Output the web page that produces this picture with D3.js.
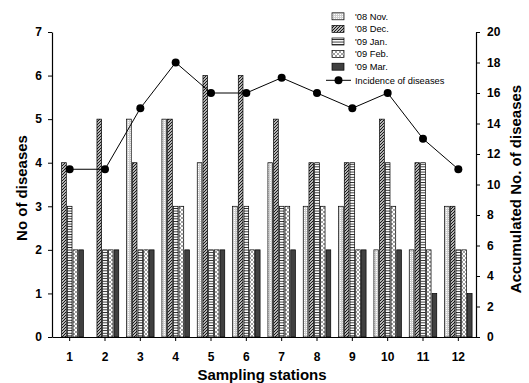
<!DOCTYPE html>
<html>
<head>
<meta charset="utf-8">
<script src="https://cdn.jsdelivr.net/npm/d3@7"></script>
<style>
  body { margin: 0; background: #fff; }
  svg { display: block; font-family: "Liberation Sans", Arial, sans-serif; }
</style>
</head>
<body>
<svg id="chart" width="529" height="383"></svg>
<script>
// data
const stations = ["1", "2", "3", "4", "5", "6", "7", "8", "9", "10", "11", "12"];
const months = ["'08 Nov.", "'08 Dec.", "'09 Jan.", "'09 Feb.", "'09 Mar."];
const nov08 = [0, 0, 5, 5, 4, 3, 4, 3, 3, 2, 2, 3];
const dec08 = [4, 5, 4, 5, 6, 6, 5, 4, 4, 5, 4, 3];
const jan09 = [3, 2, 2, 3, 2, 3, 3, 4, 4, 4, 4, 2];
const feb09 = [2, 2, 2, 3, 2, 2, 3, 3, 2, 3, 2, 2];
const mar09 = [2, 2, 2, 2, 2, 2, 2, 2, 2, 2, 1, 1];
const incidence = [11, 11, 15, 18, 16, 16, 17, 16, 15, 16, 13, 11];
const leftTicks = [0, 1, 2, 3, 4, 5, 6, 7];
const rightTicks = [0, 2, 4, 6, 8, 10, 12, 14, 16, 18, 20];

const series = [nov08, dec08, jan09, feb09, mar09];
const fills = ["url(#pNov)", "url(#pDec)", "url(#pJan)", "url(#pFeb)", "#404040"];

const svg = d3.select('#chart');
const plotLeft = 52, plotRight = 476, plotTop = 32, plotBottom = 337;

// patterns
const defs = svg.append('defs');
let p = defs.append('pattern').attr('id', 'pNov').attr('patternUnits', 'userSpaceOnUse')
  .attr('width', 2).attr('height', 2);
p.append('rect').attr('width', 2).attr('height', 2).attr('fill', '#cfcfcf');
p.append('rect').attr('width', 1).attr('height', 1).attr('fill', '#fff');

p = defs.append('pattern').attr('id', 'pDec').attr('patternUnits', 'userSpaceOnUse')
  .attr('width', 3).attr('height', 3);
p.append('rect').attr('width', 3).attr('height', 3).attr('fill', '#fff');
p.append('path').attr('d', 'M-1,1 L1,-1 M0,3 L3,0 M2,4 L4,2').attr('stroke', '#111').attr('stroke-width', 1.2);

p = defs.append('pattern').attr('id', 'pJan').attr('patternUnits', 'userSpaceOnUse')
  .attr('width', 3).attr('height', 2.6);
p.append('rect').attr('width', 3).attr('height', 2.6).attr('fill', '#fff');
p.append('rect').attr('y', 0).attr('width', 3).attr('height', 0.9).attr('fill', '#222');

p = defs.append('pattern').attr('id', 'pFeb').attr('patternUnits', 'userSpaceOnUse')
  .attr('width', 4).attr('height', 4);
p.append('rect').attr('width', 4).attr('height', 4).attr('fill', '#fff');
p.append('path').attr('d', 'M0,0 L4,4 M0,4 L4,0').attr('stroke', '#888').attr('stroke-width', 0.8);

// scales
const x = d3.scaleBand().domain(stations).range([plotLeft, plotRight]).padding(0);
const y = d3.scaleLinear().domain([0, 7]).range([plotBottom, plotTop]);
const y2 = d3.scaleLinear().domain([0, 20]).range([plotBottom, plotTop]);
const sub = d3.scaleBand().domain(d3.range(5)).range([-13.75, 13.75]).paddingInner(0.18);

const cx = d => x(d) + x.bandwidth() / 2;

// bars
series.forEach((vals, si) => {
  svg.append('g').selectAll('rect')
    .data(vals.map((v, i) => ({ st: stations[i], v })).filter(d => d.v > 0))
    .enter().append('rect')
    .attr('x', d => cx(d.st) + sub(si))
    .attr('width', sub.bandwidth())
    .attr('y', d => y(d.v))
    .attr('height', d => plotBottom - y(d.v))
    .attr('fill', fills[si])
    .attr('stroke', '#000')
    .attr('stroke-width', 0.7);
});

// incidence line
const line = d3.line().x((d, i) => cx(stations[i])).y(d => y2(d));
svg.append('path').datum(incidence)
  .attr('d', line).attr('fill', 'none').attr('stroke', '#000').attr('stroke-width', 1);
svg.append('g').selectAll('circle').data(incidence).enter().append('circle')
  .attr('cx', (d, i) => cx(stations[i])).attr('cy', d => y2(d)).attr('r', 4).attr('fill', '#000');

// axes
const styleAxis = g => {
  g.select('.domain').attr('stroke', '#000').attr('stroke-width', 1.2);
  g.selectAll('.tick line').attr('stroke', '#000');
  g.selectAll('.tick text').attr('fill', '#000').style('font-size', '12px').style('font-weight', 'bold')
    .style('font-family', '"Liberation Sans", Arial, sans-serif');
};
svg.append('g').attr('transform', `translate(0,${plotBottom})`)
  .call(d3.axisBottom(x).tickSize(4).tickSizeOuter(0).tickPadding(11))
  .call(styleAxis);
svg.append('g').attr('transform', `translate(${plotLeft},0)`)
  .call(d3.axisLeft(y).tickValues(leftTicks).tickFormat(d3.format('d')).tickSize(4).tickSizeOuter(0).tickPadding(6))
  .call(styleAxis);
svg.append('g').attr('transform', `translate(${plotRight},0)`)
  .call(d3.axisRight(y2).tickValues(rightTicks).tickFormat(d3.format('d')).tickSize(4).tickSizeOuter(0).tickPadding(7))
  .call(styleAxis);

// titles
svg.append('text').attr('x', 262).attr('y', 380).attr('text-anchor', 'middle')
  .style('font-size', '15px').style('font-weight', 'bold').text('Sampling stations');
svg.append('text').attr('transform', 'translate(27,188) rotate(-90)').attr('text-anchor', 'middle')
  .style('font-size', '15px').style('font-weight', 'bold').text('No of diseases');
svg.append('text').attr('transform', 'translate(521,189) rotate(-90)').attr('text-anchor', 'middle')
  .style('font-size', '15px').style('font-weight', 'bold').text('Accumulated No. of diseases');

// legend
const leg = svg.append('g');
months.forEach((m, i) => {
  const ly = 16.3 + i * 12.6;
  leg.append('rect').attr('x', 332).attr('y', ly - 3.5).attr('width', 12).attr('height', 7)
    .attr('fill', fills[i]).attr('stroke', '#000').attr('stroke-width', 0.7);
  leg.append('text').attr('x', 355).attr('y', ly).attr('dy', '0.35em')
    .style('font-size', '9.3px').text(m);
});
const lly = 16.3 + 5 * 12.6 + 1;
leg.append('line').attr('x1', 326).attr('x2', 351).attr('y1', lly).attr('y2', lly).attr('stroke', '#000');
leg.append('circle').attr('cx', 338.5).attr('cy', lly).attr('r', 4).attr('fill', '#000');
leg.append('text').attr('x', 355).attr('y', lly).attr('dy', '0.35em')
  .style('font-size', '9.3px').text('Incidence of diseases');
</script>
</body>
</html>
